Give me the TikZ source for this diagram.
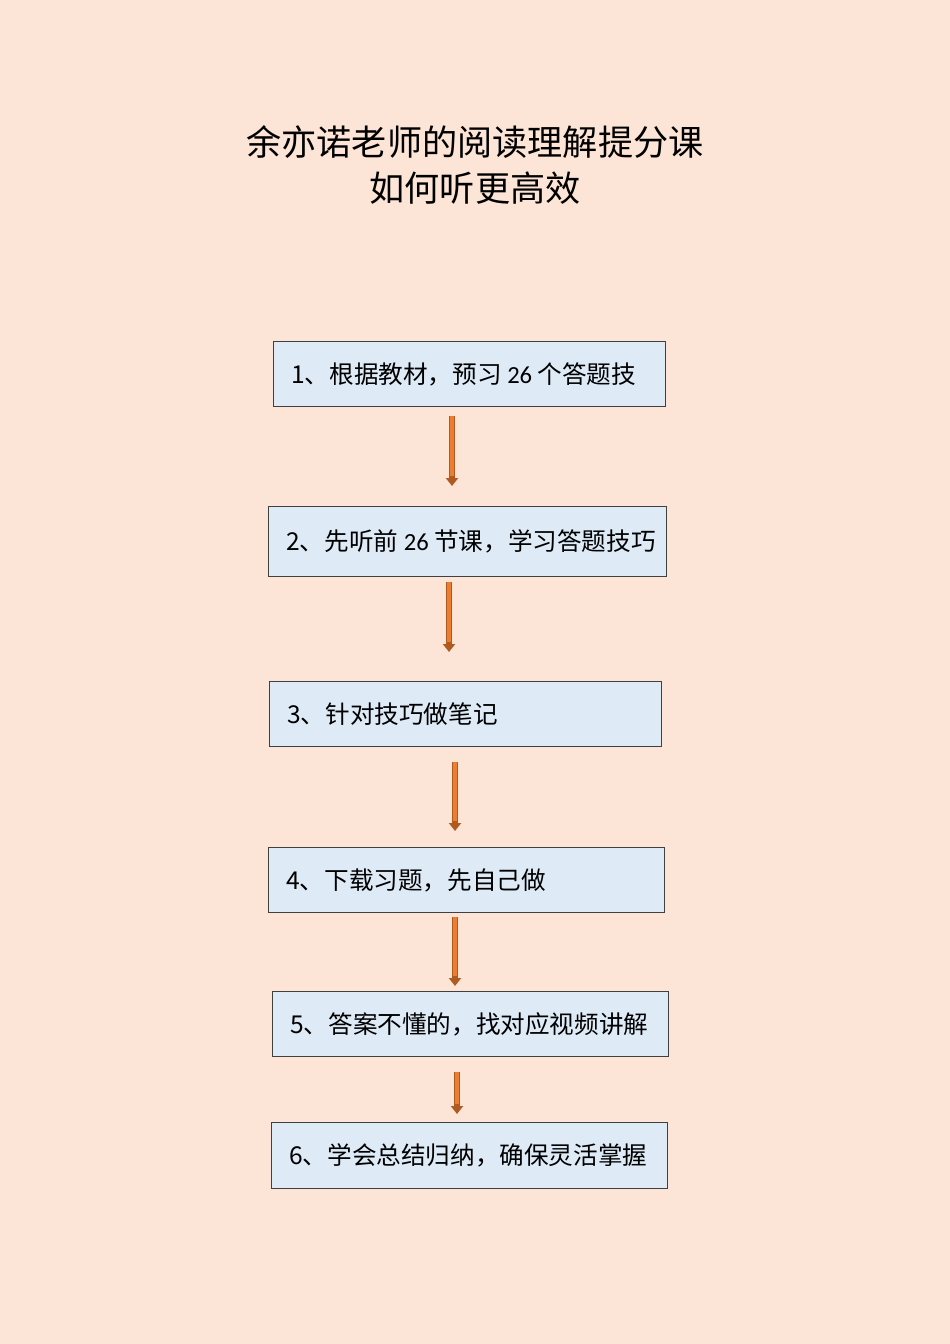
\documentclass[tikz,border=0pt]{standalone}
\usepackage{fontspec}
\newfontfamily\cjk{Noto Sans CJK SC}
\newfontfamily\lat{Carlito}
\usetikzlibrary{arrows.meta}
\definecolor{bg}{HTML}{FCE4D6}
\definecolor{boxf}{HTML}{DEEBF7}
\definecolor{arr}{HTML}{ED7D31}
\definecolor{arrd}{HTML}{AE5A21}
\tikzset{
 stepbox/.style={draw=black!75,line width=0.6pt,fill=boxf,anchor=north west,inner sep=0pt,font=\fontsize{14}{16}\selectfont},
 flowarrow/.style={draw=arrd,line width=0.12cm,-{Triangle[width=0.24cm,length=0.16cm]},shorten <=0pt},
}
\newcommand{\bx}[6]{% name x1 y1 x2 y2 text
 \node[stepbox,minimum width=#4*0.02cm-#2*0.02cm,minimum height=#5*0.02cm-#3*0.02cm] (#1) at (#2*0.02,-#3*0.02) {};
 \node[anchor=west,font=\fontsize{14}{16}\selectfont\cjk] at ([xshift=0.24cm]#1.west) {#6};}
\begin{document}
\begin{tikzpicture}
\fill[bg] (0,0) rectangle (19,-26.88);
\useasboundingbox (0,0) rectangle (19,-26.88);
\node[font=\fontsize{20}{26}\selectfont\cjk,align=center] (title) at (9.5,-3.3) {余亦诺老师的阅读理解提分课\\如何听更高效};
\bx{b1}{273}{341}{665}{406}{1、根据教材，预习 {\lat 26} 个答题技}
\bx{b2}{268}{506}{666}{576}{2、先听前 {\lat 26} 节课，学习答题技巧}
\bx{b3}{269}{681}{661}{746}{3、针对技巧做笔记}
\bx{b4}{268}{847}{664}{912}{4、下载习题，先自己做}
\bx{b5}{272}{991}{668}{1056}{5、答案不懂的，找对应视频讲解}
\bx{b6}{271}{1122}{667}{1188}{6、学会总结归纳，确保灵活掌握}
\coordinate (a1s) at (9.04,-8.32); \coordinate (a1e) at (9.04,-9.72);
\coordinate (a2s) at (8.98,-11.64); \coordinate (a2e) at (8.98,-13.04);
\coordinate (a3s) at (9.10,-15.24); \coordinate (a3e) at (9.10,-16.62);
\coordinate (a4s) at (9.10,-18.34); \coordinate (a4e) at (9.10,-19.72);
\coordinate (a5s) at (9.14,-21.44); \coordinate (a5e) at (9.14,-22.28);
\foreach \i in {1,...,5}{
 \draw[flowarrow] (a\i s) -- (a\i e);
 \draw[arr,line width=0.08cm,shorten >=0.2cm] (a\i s) -- (a\i e);
}
\end{tikzpicture}
\end{document}
